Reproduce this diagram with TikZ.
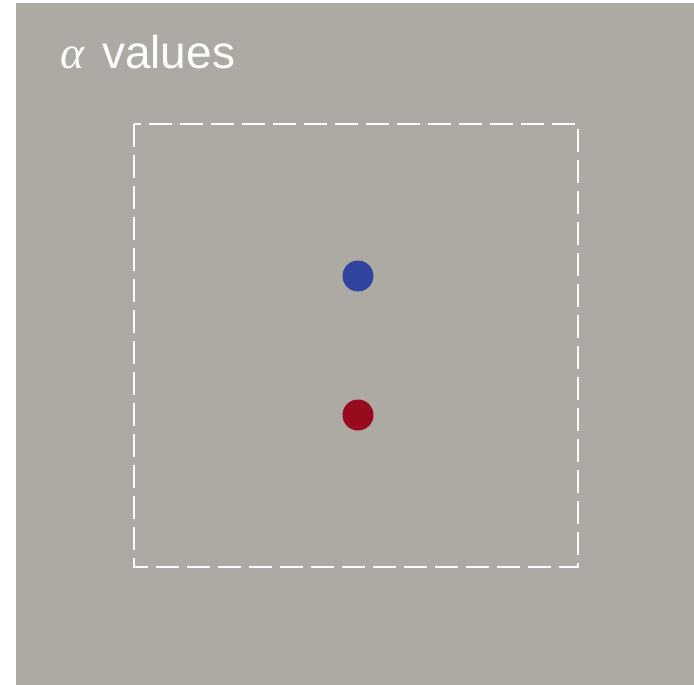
\documentclass[tikz,border=0pt]{standalone}
\usepackage{fontspec}
\setmainfont{Liberation Sans}
\newfontfamily\greekserif{Liberation Serif}
\definecolor{bggray}{RGB}{173,170,164}
\definecolor{dotblue}{RGB}{50,68,160}
\definecolor{dotred}{RGB}{152,10,30}
\begin{document}
\begin{tikzpicture}[x=1pt,y=-1pt,
  framebox/.style={draw=white,line width=2pt,dash pattern=on 23pt off 8pt},
  dot/.style={circle,inner sep=0pt,minimum size=31pt},
  title/.style={anchor=base west,text=white,inner sep=0pt}]
\useasboundingbox (0,0) rectangle (694,685);
\fill[white] (0,0) rectangle (694,685);
\fill[bggray] (16,3) rectangle (694,685);
\node[title,font=\fontsize{46}{50}\selectfont\greekserif\itshape] (alpha) at (60,69) {α};
\node[title,font=\fontsize{46}{50}\selectfont] (values) at (102,69) {values};
\draw[framebox] (134,124) rectangle (578,567);
\node[dot,fill=dotblue] (blue) at (358,276) {};
\node[dot,fill=dotred] (red) at (358,415) {};
\end{tikzpicture}
\end{document}
